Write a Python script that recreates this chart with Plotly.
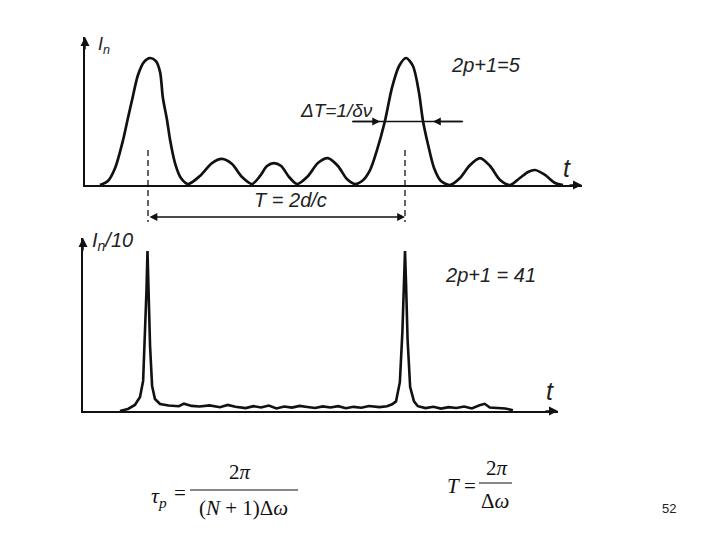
import plotly.graph_objects as go

# ---------------- data (t in units where T = 100, intensity: peak = 100) ----------------
t_top = [-18.7, -15.6, -12.8, -9.7, -7.8, -6.2, -3.9, -1.6, 0.8, 3.1, 4.7, 5.8, 7.4, 8.6, 10.5,
         12.8, 15.6, 20.2, 24.9, 28.8, 32.7, 36.6, 40.5, 43.6, 46.3, 49.0, 51.8, 54.9, 58.0,
         62.3, 66.1, 70.0, 73.9, 77.4, 80.5, 83.3, 86.4, 89.1, 92.2, 94.9, 97.7, 100.4, 103.1,
         105.4, 107.0, 109.0, 111.3, 114.0, 117.5, 121.4, 125.3, 129.2, 133.1, 137.0, 140.9,
         144.7, 147.9, 150.6, 154.5, 158.4, 161.5]
I_top = [0, 3.1, 13.4, 35.4, 52.8, 66.9, 86.6, 96.8, 100, 97.6, 88.9, 68.5, 51.2, 35.4, 17.3,
         5.5, 0.8, 7.1, 17.3, 20.5, 16.5, 6.3, 0.8, 7.1, 15.0, 17.3, 15.0, 6.3, 0.8,
         7.1, 17.3, 21.2, 15.0, 4.7, 0.8, 3.1, 11.8, 27.5, 50.4, 76.3, 93.7, 100, 93.7,
         73.2, 50.4, 31.5, 13.4, 3.1, 0, 5.5, 15.7, 21.2, 15.0, 3.9, 0,
         5.5, 10.2, 11.8, 7.9, 1.6, 0]

t_bot = [-10.9, -7.8, -5.1, -3.1, -1.9, -1.2, -0.6, -0.2, 0.2, 0.8, 1.6, 2.7, 4.7,
         8, 12, 14, 17, 20, 24, 28, 31, 34, 38,
         41, 44, 47, 50, 53, 56, 59, 62, 65, 68,
         71, 74, 77, 80, 83, 86, 90, 93, 95,
         96.5, 98, 99, 99.6, 100, 100.4, 101, 102, 103.5,
         105, 108, 111, 114, 117, 120, 123, 126, 129, 131, 133, 136, 139, 142]
I_bot = [0, 1.3, 3.8, 8.8, 18.8, 43.8, 75, 100, 75, 40.6, 15.6, 7.5, 4.4,
         3.4, 3.0, 4.6, 3.2, 2.8, 3.5, 2.4, 3.8, 2.6, 1.8,
         3.0, 2.2, 3.4, 1.6, 2.8, 2.1, 3.2, 2.5, 1.9, 2.9,
         2.2, 3.0, 1.7, 2.6, 2.0, 3.1, 2.4, 3.0, 4.2,
         6, 18, 50, 80, 100, 80, 45, 15, 6,
         3.0, 1.8, 2.6, 1.5, 2.4, 1.9, 2.8, 1.6, 3.6, 4.5, 2.2, 2.0, 1.6, 0.5]

period_marks = [0, 100]            # T = 2d/c
half_max = 50                      # level of the ΔT marker
dT_arrows = [(79.4, 90.3), (122.6, 110.9)]   # (tail, tip) of the ΔT arrows

top_label = "2<i>p</i>+1=5"
bot_label = "2<i>p</i>+1 = 41"
page_number = "52"

W, H = 720, 540
def px(x):
    return x / W
def py(y):
    return 1 - y / H

fig = go.Figure()
fig.add_trace(go.Scatter(x=t_top, y=I_top, mode="lines", xaxis="x", yaxis="y",
                         line=dict(color="#111", width=2.7, shape="spline", smoothing=0.8),
                         hoverinfo="skip", showlegend=False))
fig.add_trace(go.Scatter(x=t_bot, y=I_bot, mode="lines", xaxis="x2", yaxis="y2",
                         line=dict(color="#111", width=2.6),
                         hoverinfo="skip", showlegend=False))

# pixel -> data mapping: 257 px per period (100 units), t=0 at x=148 px
S = 2.57
axis_common = dict(showgrid=False, zeroline=False, showticklabels=False, ticks="",
                   showline=True, linecolor="#111", linewidth=1.7)
fig.update_layout(
    width=W, height=H, margin=dict(l=0, r=0, t=0, b=0),
    paper_bgcolor="white", plot_bgcolor="white",
    xaxis=dict(domain=[px(85), px(582)], range=[(85 - 148) / S, (582 - 148) / S],
               anchor="y", **axis_common),
    yaxis=dict(domain=[py(185), py(37)], range=[0, (185 - 37) / 1.27], anchor="x", **axis_common),
    xaxis2=dict(domain=[px(83), px(558)], range=[(83 - 148) / S, (558 - 148) / S],
                anchor="y2", **axis_common),
    yaxis2=dict(domain=[py(411), py(238)], range=[0, (411 - 238) / 1.6], anchor="x2", **axis_common),
)

ann = []
# arrowheads on the axes
for (x, y, ax, ay) in [(582, 185, -14, 0), (85, 37, 0, 14), (558, 411, -14, 0), (83, 238, 0, 14)]:
    ann.append(dict(x=px(x), y=py(y), xref="paper", yref="paper", ax=ax, ay=ay,
                    showarrow=True, arrowhead=2, arrowsize=1.2, arrowwidth=1.5, arrowcolor="#111",
                    text=""))

italic = dict(family="Liberation Sans, Arial", color="#222")
def label(x, y, text, size, xanchor="center", fam=italic):
    ann.append(dict(x=px(x), y=py(y), xref="paper", yref="paper", text=text, showarrow=False,
                    xanchor=xanchor, yanchor="middle", font=dict(size=size, **fam)))

label(96, 46, "<i>I<sub>n</sub></i>", 18, "left")
label(90, 241, "<i>I<sub>n</sub>/10</i>", 20, "left")
label(567, 168, "<i>t</i>", 25)
label(550, 391, "<i>t</i>", 25)
label(486, 65, "<i>" + top_label + "</i>", 20)
label(490, 275, "<i>" + bot_label + "</i>", 20)
label(336, 110, "<i>ΔT=1/δν</i>", 19)
label(290, 200, "<i>T = 2d/c</i>", 20)

# T = 2d/c double arrow between period marks
for m in period_marks:
    fig.add_shape(type="line", xref="x", yref="paper", x0=m, x1=m, y0=py(150), y1=py(222),
                  line=dict(color="#111", width=1.3, dash="6px,4px"))
ann.append(dict(x=period_marks[1], y=py(217), xref="x", yref="paper",
                ax=period_marks[0], ay=0, axref="x", ayref="pixel",
                showarrow=True, arrowhead=2, startarrowhead=2, arrowside="end+start",
                arrowsize=1.2, arrowwidth=1.3, arrowcolor="#111", text=""))

# ΔT marker at half maximum of the second peak
fig.add_shape(type="line", xref="x", yref="y", x0=dT_arrows[0][0], x1=dT_arrows[1][0],
              y0=half_max, y1=half_max, line=dict(color="#111", width=1.3))
for tail, tip in dT_arrows:
    ann.append(dict(x=tip, y=half_max, xref="x", yref="y", ax=tail, ay=half_max,
                    axref="x", ayref="y", showarrow=True, arrowhead=2, arrowsize=1.2,
                    arrowwidth=1.3, arrowcolor="#111", text=""))

# formulas
serif = dict(family="Liberation Serif, Times New Roman", color="#111")
label(149, 497, "<i>τ</i><sub><i>p</i></sub>", 22, "left", serif)
label(180, 493, "=", 21, "center", serif)
label(240, 472, "2<i>π</i>", 21, "center", serif)
label(243, 508, "(<i>N</i> + 1)Δ<i>ω</i>", 21, "center", serif)
fig.add_shape(type="line", xref="paper", yref="paper", x0=px(190), x1=px(298), y0=py(490), y1=py(490),
              line=dict(color="#111", width=1))
label(453, 486, "<i>T</i>", 21, "center", serif)
label(470, 486, "=", 21, "center", serif)
label(497, 468, "2<i>π</i>", 21, "center", serif)
label(495, 501, "Δ<i>ω</i>", 21, "center", serif)
fig.add_shape(type="line", xref="paper", yref="paper", x0=px(479), x1=px(512), y0=py(483), y1=py(483),
              line=dict(color="#111", width=1))
label(669, 509, page_number, 13, "center", dict(family="Liberation Sans, Arial", color="#222"))

fig.update_layout(annotations=ann)
fig.write_html("out.html", config={"displayModeBar": False},
               post_script="document.body.style.margin='0px';")
